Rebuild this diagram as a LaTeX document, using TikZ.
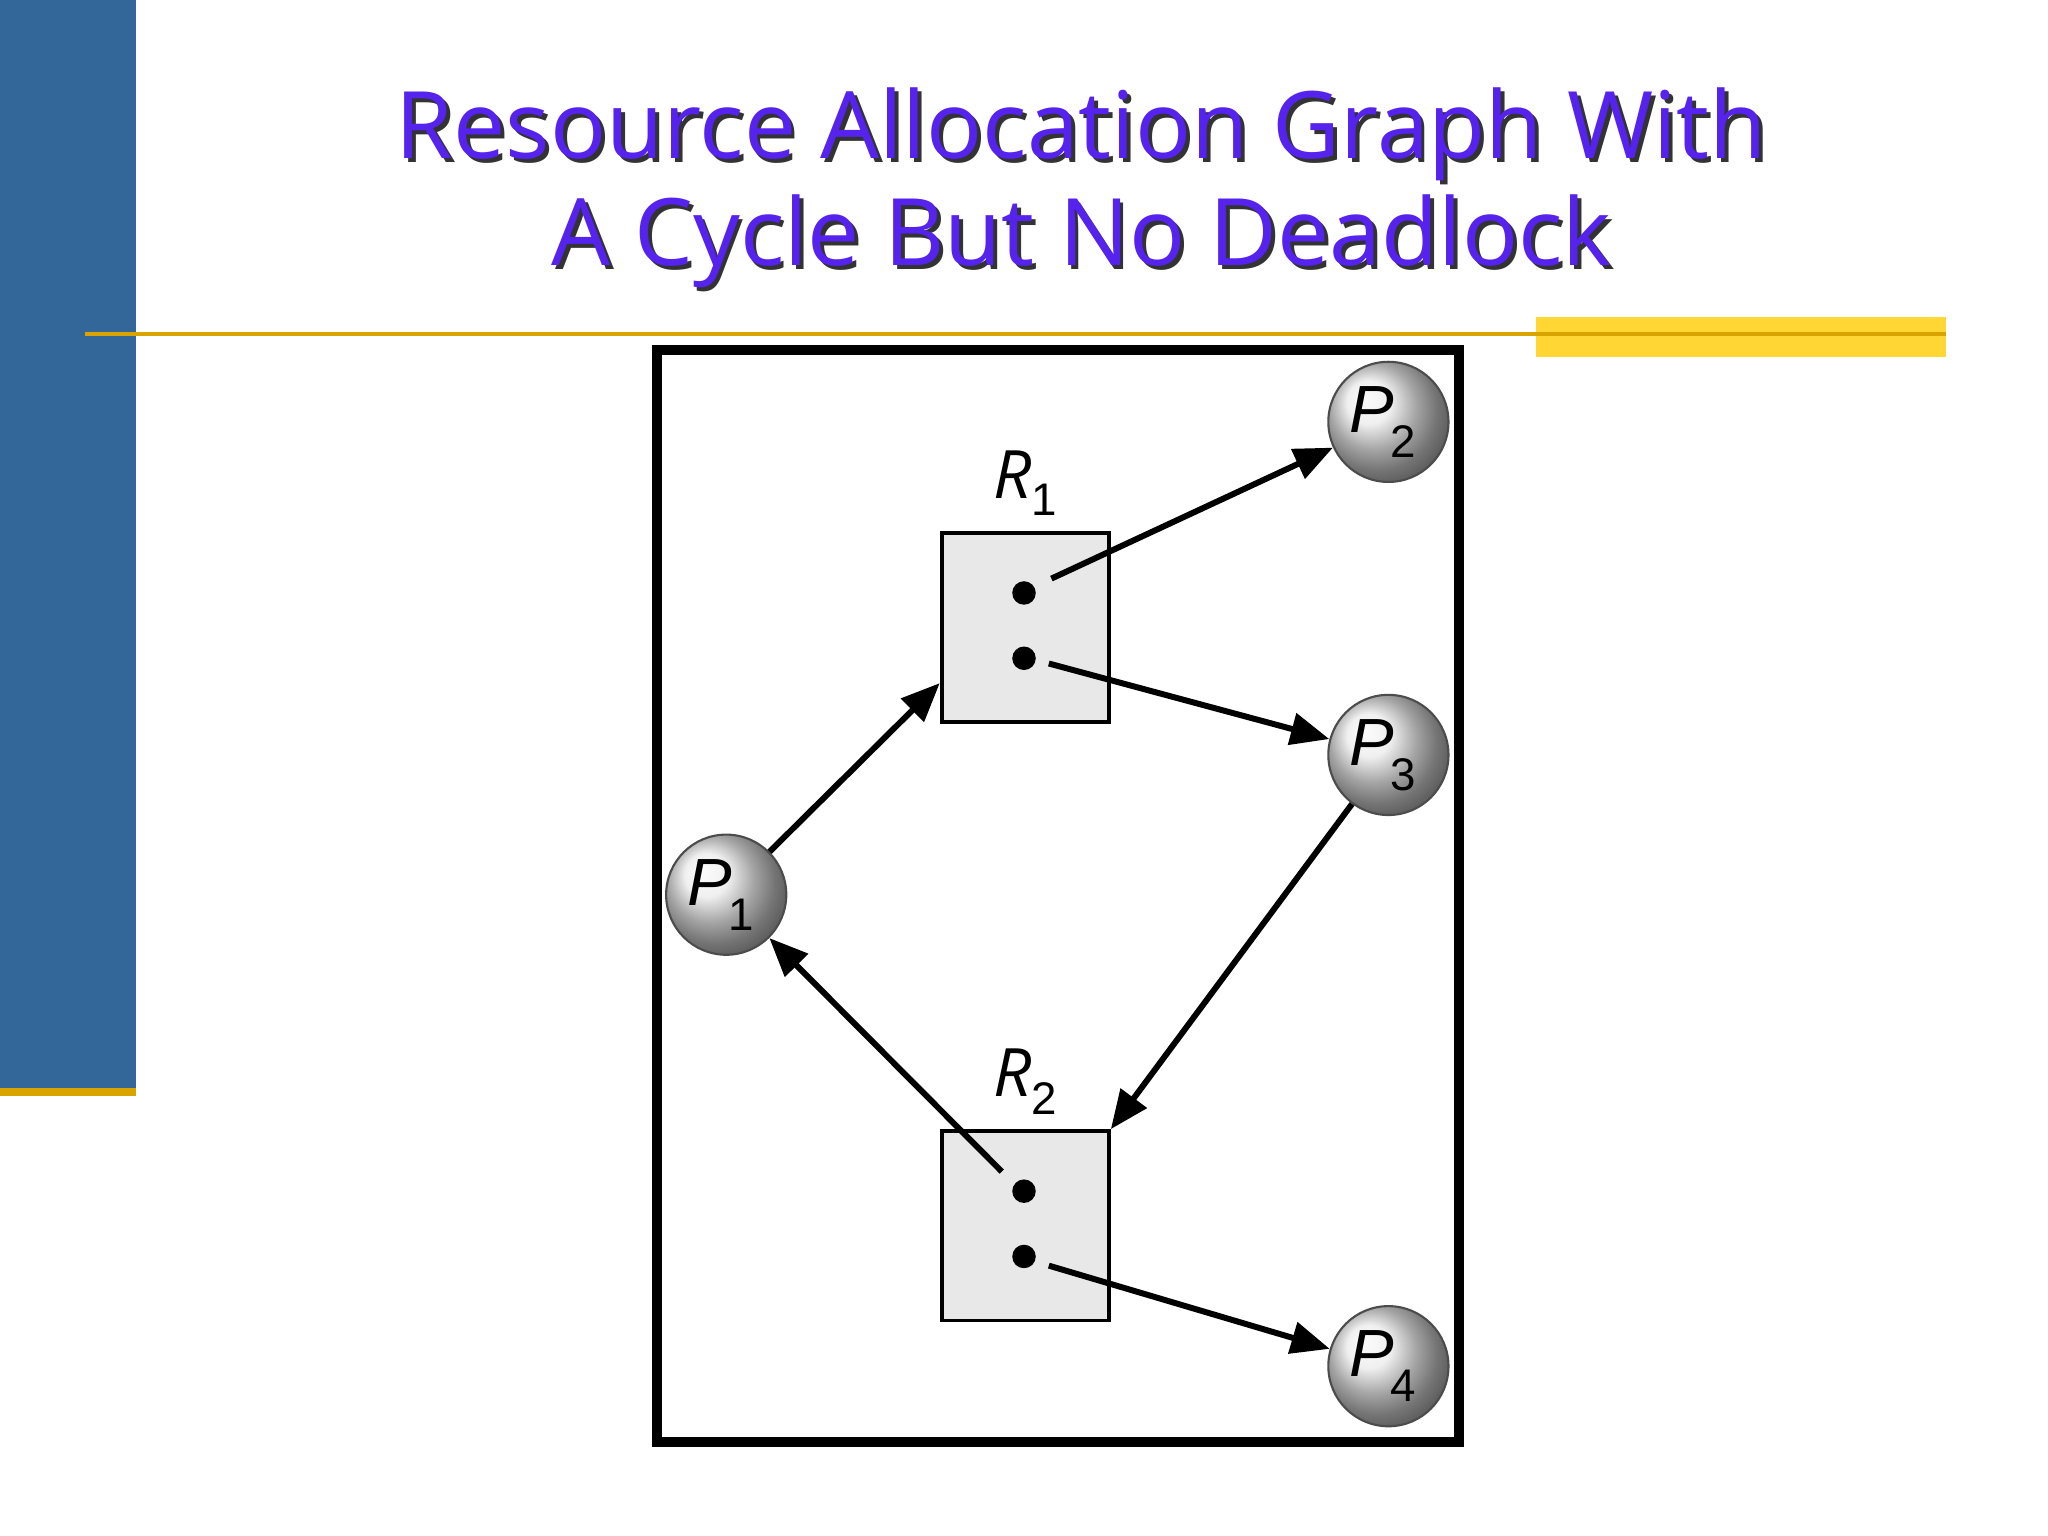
\documentclass[tikz,border=0pt]{standalone}
\usepackage{fontspec}
\setmainfont{Open Sans}
\newfontfamily\helv{Liberation Sans}
\usetikzlibrary{arrows.meta,shadings}
\definecolor{barblue}{HTML}{336699}
\definecolor{gold}{HTML}{D9A400}
\definecolor{yel}{HTML}{FFD633}
\definecolor{ttl}{HTML}{5522EE}
\definecolor{boxg}{HTML}{E8E8E8}
\tikzset{
 proc/.style={circle,minimum size=92*0.01306cm,inner sep=0pt,draw=black!70,line width=0.6pt,
   shading=ball,ball color=black!8,font=\helv\itshape\fontsize{19}{19}\selectfont},
 res/.style={rectangle,draw,fill=boxg,line width=1.1pt,minimum width=128*0.01306cm,minimum height=145*0.01306cm,inner sep=0pt},
 dotn/.style={circle,fill=black,minimum size=18*0.01306cm,inner sep=0pt},
 edge/.style={line width=1.7pt,-{Triangle[length=11pt,width=9pt]}},
 rlab/.style={font=\helv\itshape\fontsize{19}{19}\selectfont},
 ttlf/.style={font=\fontsize{26.5}{26.5}\selectfont}
}
\begin{document}
\begin{tikzpicture}[x=0.01306cm,y=-0.01306cm]
\useasboundingbox (0,0) rectangle (1568,1176);
\fill[white] (0,0) rectangle (1568,1176);
\fill[barblue] (0,0) rectangle (104,833);
\fill[gold] (0,833) rectangle (104,839);
\fill[yel] (1176,243) rectangle (1490,273);
\draw[gold,line width=1.2pt] (65,256) -- (1490,256);
% title
\foreach \t/\y in {{Resource Allocation Graph With}/103,{A Cycle But No Deadlock}/185}{
 \node[ttlf,text=black!80] at (831,\y+3) {\t};
 \node[ttlf,text=ttl] (t\y) at (828,\y) {\t};
}
\draw[line width=2.7pt] (503,268) rectangle (1117,1104);
\node[res] (R1) at (785,480.5) {};
\node[res] (R2) at (785,938.5) {};
\node[rlab] (lR1) at (785,370) {$\mathit{R}$\raisebox{-0.5ex}{\upshape\fontsize{13}{13}\selectfont 1}};
\node[rlab] (lR2) at (785,828) {$\mathit{R}$\raisebox{-0.5ex}{\upshape\fontsize{13}{13}\selectfont 2}};
\node[dotn] (d11) at (784,454) {};
\node[dotn] (d12) at (784,504) {};
\node[dotn] (d21) at (784,912) {};
\node[dotn] (d22) at (784,962) {};
\foreach \n/\x/\y in {1/556/685,2/1063/323,3/1063/578,4/1063/1046}{
 \node[proc] (P\n) at (\x,\y) {\kern-3pt P\kern-1pt\raisebox{-0.7ex}{\upshape\fontsize{13}{13}\selectfont\n}};
}
\draw[edge] ([shift={(21,-11)}]d11.center) -- (P2);
\draw[edge] ([shift={(19,4)}]d12.center) -- (P3);
\draw[edge] (P1) -- (R1.south west |- 0,523);
\draw[edge] (P3) -- (R2.north east);
\draw[edge] ([shift={(-17,-15)}]d21.center) -- (P1);
\draw[edge] ([shift={(19,7)}]d22.center) -- (P4);
\end{tikzpicture}
\end{document}
